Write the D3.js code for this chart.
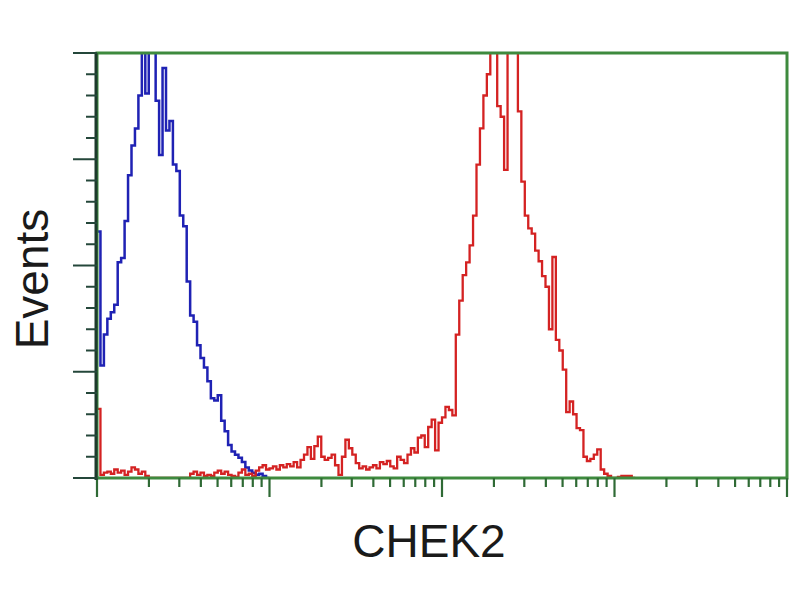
<!DOCTYPE html>
<html>
<head>
<meta charset="utf-8">
<script src="https://cdn.jsdelivr.net/npm/d3@7"></script>
<style>
  body { margin: 0; background: #fff; }
  svg { display: block; }
  text { font-family: "Liberation Sans", Arial, sans-serif; fill: #1a1a1a; }
</style>
</head>
<body>
<svg id="chart" width="800" height="600" viewBox="0 0 800 600"></svg>
<script>
// histogram channels: 50 channels per decade, 4 decades (1 .. 10^4)
const channelsPerDecade = 50;
const decades = [1, 10, 100, 1000, 10000];

// control (blue) counts per channel, starting at channel 0
const blueCounts = [232,106,135,150,156,163,203,207,242,285,313,329,360,420,362,420,420,355,304,386,
    327,336,295,289,247,237,185,153,147,125,113,104,91,75,73,78,54,44,31,25,
    22,19,15,10,7,5,3,4,2,0];

// CHEK2 (red) counts per channel, starting at channel 0
const redCounts = [65,3,5,6,4,8,5,7,3,6,10,8,4,6,2,0,0,0,0,0,
    0,0,0,0,0,0,0,4,6,3,5,2,3,2,5,7,4,6,3,2,
    1,5,8,3,4,2,7,10,12,8,9,11,8,12,10,13,11,15,10,17,
    22,29,18,30,39,20,17,19,22,12,3,20,36,28,22,14,9,11,8,10,
    12,9,15,13,16,11,9,20,17,14,22,28,24,38,40,29,48,55,26,52,
    57,67,64,59,135,167,191,203,219,247,295,329,360,380,420,420,350,340,290,420,
    420,420,345,279,247,235,230,214,204,190,180,140,208,130,120,102,62,72,60,47,
    45,20,16,18,22,27,8,4,2,0,0,1,2,2,2,0];

const yTicks = d3.range(0, 401, 20);
const yMajor = [0, 100, 200, 300, 400];

const svg = d3.select("#chart");
const plotLeft = 97, plotRight = 787, plotTop = 53, plotBottom = 478;

const x = d3.scaleLog().domain([1, 10000]).range([plotLeft, plotRight]);
const y = d3.scaleLinear().domain([0, 400]).range([plotBottom, plotTop]);

// channel index -> value on log axis
const chanVal = c => Math.pow(10, c / channelsPerDecade);

svg.append("defs").append("clipPath").attr("id", "plot-clip")
    .append("rect")
    .attr("x", plotLeft).attr("y", plotTop)
    .attr("width", plotRight - plotLeft).attr("height", plotBottom - plotTop);

function stepPoints(counts) {
    const pts = counts.map((v, i) => [chanVal(i), v]);
    pts.push([chanVal(counts.length), counts[counts.length - 1]]);
    return pts;
}

const line = d3.line()
    .x(d => x(d[0]))
    .y(d => y(d[1]))
    .curve(d3.curveStepAfter);

const plot = svg.append("g").attr("clip-path", "url(#plot-clip)");

plot.append("path")
    .attr("d", line(stepPoints(blueCounts)))
    .attr("fill", "none")
    .attr("stroke", "#1f22b4")
    .attr("stroke-width", 2.5);

plot.append("path")
    .attr("d", line(stepPoints(redCounts)))
    .attr("fill", "none")
    .attr("stroke", "#d42222")
    .attr("stroke-width", 2.3);

// frame
svg.append("rect")
    .attr("x", plotLeft).attr("y", plotTop)
    .attr("width", plotRight - plotLeft).attr("height", plotBottom - plotTop)
    .attr("fill", "none")
    .attr("stroke", "#3e8a3e")
    .attr("stroke-width", 3);

// x ticks (log decades with 2..9 minors)
const xTicks = [];
decades.slice(0, 4).forEach(d => {
    for (let k = 1; k <= 9; k++) xTicks.push({ v: k * d, major: k === 1 });
});
xTicks.push({ v: 10000, major: true });

svg.append("g").selectAll("line")
    .data(xTicks)
    .join("line")
    .attr("x1", d => x(d.v)).attr("x2", d => x(d.v))
    .attr("y1", plotBottom).attr("y2", d => plotBottom + (d.major ? 19 : 9))
    .attr("stroke", "#2f6a35")
    .attr("stroke-width", 2.2);

// left axis
svg.append("line")
    .attr("x1", plotLeft - 1).attr("x2", plotLeft - 1)
    .attr("y1", plotTop).attr("y2", plotBottom + 2)
    .attr("stroke", "#1d3a2c")
    .attr("stroke-width", 3);

svg.append("g").selectAll("line")
    .data(yTicks)
    .join("line")
    .attr("y1", d => y(d)).attr("y2", d => y(d))
    .attr("x1", d => plotLeft - (yMajor.includes(d) ? 24 : 11)).attr("x2", plotLeft)
    .attr("stroke", "#24473a")
    .attr("stroke-width", 2);

// labels
svg.append("text")
    .attr("transform", `translate(48,${279}) rotate(-90)`)
    .attr("text-anchor", "middle")
    .style("font-size", "46px")
    .text("Events");

svg.append("text")
    .attr("x", 429).attr("y", 557)
    .attr("text-anchor", "middle")
    .style("font-size", "46px")
    .text("CHEK2");
</script>
</body>
</html>
